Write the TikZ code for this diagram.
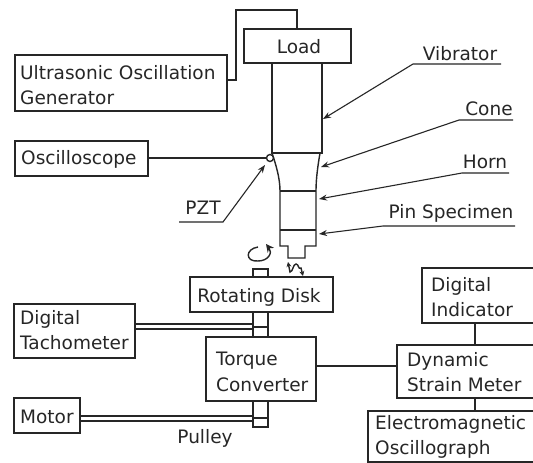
\documentclass[tikz,border=0pt]{standalone}
\usepackage{fontspec}
\setmainfont{DejaVu Sans}
\usetikzlibrary{arrows.meta}
\tikzset{
  every picture/.style={x=1pt,y=-1pt},
  ink/.style={draw=black!85,line width=1.4pt},
  boxn/.style={ink,rectangle,anchor=north west,inner sep=0pt,outer sep=0pt},
  lab/.style={font=\fontsize{18.5}{25.5}\selectfont,text=black!85,inner sep=0pt,align=left},
  lead/.style={draw=black!85,line width=1.1pt,-{Stealth[length=8pt,width=6pt]}},
}
\newcommand{\bx}[4]{\node[boxn,minimum width=#3pt,minimum height=#4pt] (#1) at (#2) {};}
\begin{document}
\begin{tikzpicture}
\useasboundingbox (0,0) rectangle (533,463);
\clip (0,0) rectangle (533,463);
\fill[white] (0,0) rectangle (533,463);
\bx{load}{244,29}{107}{34}
\bx{gen}{15,55}{212}{56}
\bx{osc}{15,141}{133}{35}
\bx{tach}{14,304}{121}{54}
\bx{motor}{14,398}{66}{35}
\bx{disk}{190,277}{143}{35}
\bx{torque}{206,337}{110}{64}
\bx{ind}{422,268}{120}{55}
\bx{dyn}{397,345}{145}{53}
\bx{emo}{368,411}{174}{51}
\node[lab] at (299,47) {Load};
\node[lab,anchor=west] at (20,85) {Ultrasonic Oscillation\\Generator};
\node[lab,anchor=west] at (21,159) {Oscilloscope};
\node[lab,anchor=west] at (20,330) {Digital\\Tachometer};
\node[lab,anchor=west] at (20,417) {Motor};
\node[lab] at (259,297) {Rotating Disk};
\node[lab,anchor=west] at (216,372) {Torque\\Converter};
\node[lab,anchor=west] at (431,297) {Digital\\Indicator};
\node[lab,anchor=west] at (407,372) {Dynamic\\Strain Meter};
\node[lab,anchor=west] at (375,437) {Electromagnetic\\Oscillograph};
\node[lab] (pull) at (205,438) {Pulley};
\node[lab] (vib) at (460,54) {Vibrator};
\node[lab] (cone) at (489,109) {Cone};
\node[lab] (horn) at (485,162) {Horn};
\node[lab] (pin) at (451,213) {Pin Specimen};
\node[lab] (pzt) at (203,208) {PZT};
% body
\coordinate (v1) at (272,63); \coordinate (v2) at (322,63);
\coordinate (v3) at (272,153); \coordinate (v4) at (322,153);
\draw[ink] (v1) -- (v3) -- (v4) -- (v2);
\draw[ink] (v3) .. controls (276,165) and (280,178) .. (280,191) -- (280,246) -- (288,246) -- (288,258) -- (305,258) -- (305,246) -- (316,246) -- (316,191) .. controls (316,178) and (318,165) .. (320,153);
\draw[ink] (280,191) -- (316,191) (280,230) -- (316,230);
\node[ink,circle,fill=white,minimum size=7pt,inner sep=0pt] (piezo) at (270,158) {};
% wires
\draw[ink] (297,29) -- (297,10) -- (236,10) -- (236,80) -- (227,80);
\draw[ink] (osc.east |- piezo) -- (piezo);
% leaders
\coordinate (va) at (323,119); \coordinate (ca) at (321,167);
\coordinate (ha) at (319,199); \coordinate (pa) at (319,234); \coordinate (za) at (265,165);
\draw[lead] (501,64) -- (413,64) -- (va);
\draw[lead] (513,120) -- (459,120) -- (ca);
\draw[lead] (509,173) -- (462,173) -- (ha);
\draw[lead] (515,226) -- (383,226) -- (pa);
\draw[lead] (179,222) -- (223,222) -- (za);
% shaft
\draw[ink] (253,277) -- (253,269) -- (268,269) -- (268,277);
\draw[ink] (253,312) -- (253,337) (268,312) -- (268,337);
\draw[ink] (253,401) -- (253,427) -- (268,427) -- (268,401) (253,418) -- (268,418);
\draw[ink] (253,327) -- (268,327);
\draw[line width=1.1pt,black!85] (135,324) -- (253,324) (135,329) -- (253,329);
\draw[line width=1.1pt,black!85] (80,416) -- (253,416) (80,421) -- (253,421);
% instrument wires
\draw[ink] (475,323) -- (475,345);
\draw[ink] (475,398) -- (475,411);
\draw[ink] (316,366) -- (397,366);
% rotation marks
\draw[ink,-{Stealth[length=8pt,width=8pt]}] (258,247) .. controls (245,249) and (245,262) .. (258,261) .. controls (268,261) and (273,253) .. (266,244);
\draw[ink,{Stealth[length=5pt,width=5pt]}-{Stealth[length=5pt,width=5pt]}] (288,262) -- (290,272) .. controls (293,272) and (293,264) .. (296,264) .. controls (299,264) and (298,270) .. (301,268) -- (303,276);
\end{tikzpicture}
\end{document}
